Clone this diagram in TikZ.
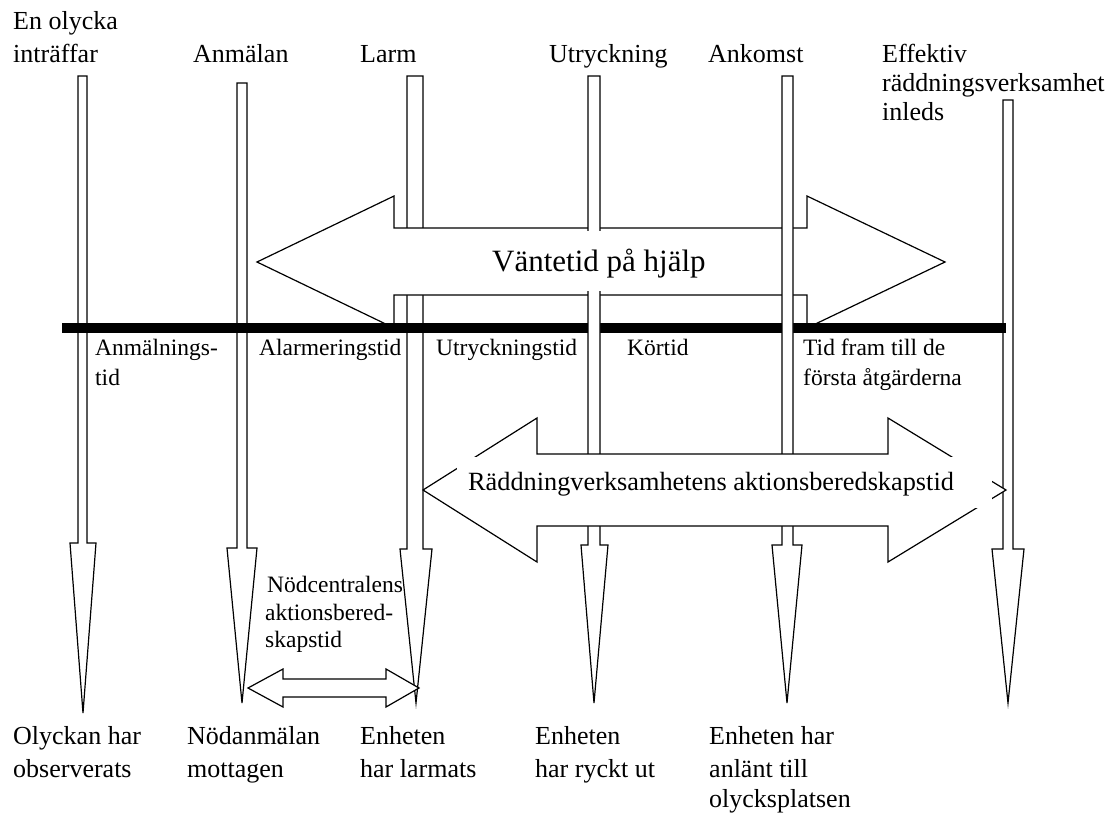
\documentclass[tikz,border=0pt]{standalone}
\usepackage{fontspec}
\setmainfont{Liberation Serif}
\tikzset{
  ln/.style={line width=1.2pt, draw=black, fill=white, line join=miter},
  big/.style={anchor=base west, inner sep=0pt, font=\fontsize{26}{31}\selectfont},
  mid/.style={anchor=base west, inner sep=0pt, font=\fontsize{23.5}{28}\selectfont},
  huge/.style={anchor=base west, inner sep=0pt, font=\fontsize{31}{36}\selectfont},
  rad/.style={anchor=base west, inner sep=0pt, font=\fontsize{26.3}{31}\selectfont},
}
\newcommand\vArrow[8]{\draw[ln] (#1,#3) -- (#2,#3) -- (#2,#4) -- (#6,#4) -- (#7,#8) -- (#5,#4) -- (#1,#4) -- cycle;}
\begin{document}
\begin{tikzpicture}[x=1pt,y=-1pt]
\useasboundingbox (0,0) rectangle (1117,812);
% vertical arrows under the bar
\vArrow{1003}{1013}{100}{549}{992}{1024}{1008}{703}
\vArrow{78}{87}{76}{543}{70}{96}{83}{713}
\vArrow{237}{247}{83}{548}{227}{257}{242}{703}
\vArrow{407}{423}{76}{549}{400}{432}{416}{703}
% upper double arrow
\draw[ln] (257,262) -- (394,196) -- (394,228) -- (807,228) -- (807,196) -- (945,262)
  -- (807,328) -- (807,295) -- (394,295) -- (394,328) -- cycle;
% time bar
\fill[black] (62,323) rectangle (1006,333);
% vertical arrows above the bar
\vArrow{588}{600}{76}{545}{581}{608}{594}{703}
\vArrow{782}{793}{76}{545}{772}{802}{787}{703}
% label of upper arrow
\fill[white] (486,231) rectangle (716,291);
\node[huge] (vant) at (492,271) {Väntetid på hjälp};
% lower double arrow
\draw[ln] (423,490) -- (537,418) -- (537,454) -- (888,454) -- (888,418) -- (1006,490)
  -- (888,562) -- (888,526) -- (537,526) -- (537,562) -- cycle;
\fill[white] (457,457) rectangle (992,508);
\node[rad] (radd) at (468,490) {Räddningverksamhetens aktionsberedskapstid};
% small double arrow
\draw[ln] (248,688) -- (283,669) -- (283,679) -- (386,679) -- (386,669) -- (419,688)
  -- (386,707) -- (386,697) -- (283,697) -- (283,707) -- cycle;
% top labels
\node[big] (t1a) at (13,29) {En olycka};
\node[big] (t1b) at (13,62) {inträffar};
\node[big] (t2) at (193,62) {Anmälan};
\node[big] (t3) at (360,62) {Larm};
\node[big] (t4) at (549,62) {Utryckning};
\node[big] (t5) at (708,62) {Ankomst};
\node[big] (t6a) at (882,62) {Effektiv};
\node[big] (t6b) at (882,91) {räddningsverksamhet};
\node[big] (t6c) at (882,120) {inleds};
% interval labels
\node[mid] (m1a) at (95,355) {Anmälnings-};
\node[mid] (m1b) at (95,385) {tid};
\node[mid] (m2) at (259,355) {Alarmeringstid};
\node[mid] (m3) at (436,355) {Utryckningstid};
\node[mid] (m4) at (627,355) {Körtid};
\node[mid] (m5a) at (803,355) {Tid fram till de};
\node[mid] (m5b) at (803,385) {första åtgärderna};
\node[mid] (n1) at (267,592) {Nödcentralens};
\node[mid] (n2) at (265,620) {aktionsbered-};
\node[mid] (n3) at (265,647) {skapstid};
% bottom labels
\node[big] (b1a) at (13,744) {Olyckan har};
\node[big] (b1b) at (13,777) {observerats};
\node[big] (b2a) at (187,744) {Nödanmälan};
\node[big] (b2b) at (187,777) {mottagen};
\node[big] (b3a) at (360,744) {Enheten};
\node[big] (b3b) at (360,777) {har larmats};
\node[big] (b4a) at (535,744) {Enheten};
\node[big] (b4b) at (535,777) {har ryckt ut};
\node[big] (b5a) at (709,744) {Enheten har};
\node[big] (b5b) at (709,777) {anlänt till};
\node[big] (b5c) at (709,807) {olycksplatsen};
\end{tikzpicture}
\end{document}
